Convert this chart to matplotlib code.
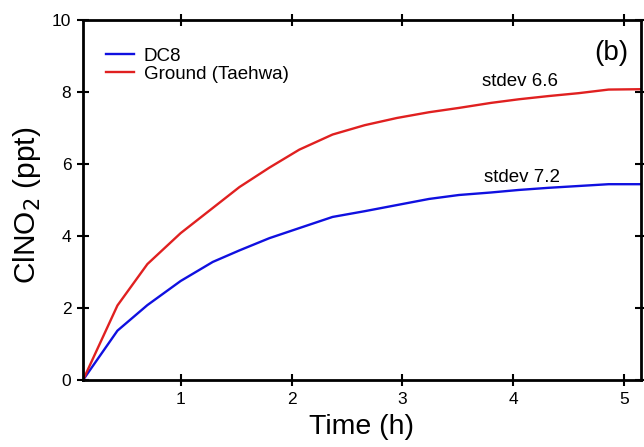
import matplotlib
matplotlib.use("Agg")
import matplotlib.pyplot as plt

plt.rcParams['font.family'] = ['Liberation Sans', 'DejaVu Sans']

time_h = [0.12, 0.43, 0.70, 1.00, 1.29, 1.53, 1.80, 2.07, 2.37, 2.66, 2.95, 3.24, 3.51, 3.80, 4.05, 4.32, 4.59, 4.86, 5.15]
dc8 = [0.0, 1.37, 2.08, 2.75, 3.28, 3.60, 3.94, 4.22, 4.53, 4.69, 4.86, 5.03, 5.14, 5.21, 5.28, 5.34, 5.39, 5.44, 5.44]
ground = [0.0, 2.07, 3.22, 4.08, 4.78, 5.36, 5.90, 6.40, 6.82, 7.08, 7.28, 7.44, 7.56, 7.70, 7.80, 7.89, 7.97, 8.07, 8.08]

series_names = ["DC8", "Ground (Taehwa)"]
annotations = ["stdev 7.2", "stdev 6.6"]

fig = plt.figure(figsize=(6.44, 4.47), dpi=100)
ax = fig.add_axes([0.129, 0.150, 0.866, 0.805])

ax.plot(time_h, dc8, color='#1010e0', lw=1.7, label=series_names[0])
ax.plot(time_h, ground, color='#e02020', lw=1.7, label=series_names[1])

ax.set_xlim(0.12, 5.15)
ax.set_ylim(0, 10)
ax.set_xticks([1, 2, 3, 4, 5])
ax.set_yticks([0, 2, 4, 6, 8, 10])
ax.tick_params(direction='inout', length=9, width=1.5, labelsize=12.5,
               top=True, right=True, labeltop=False, labelright=False, pad=4)
for s in ax.spines.values():
    s.set_linewidth(2)

ax.set_xlabel("Time (h)", fontsize=20.5, labelpad=5)
ax.set_ylabel("ClNO$_2$ (ppt)", fontsize=21.5)
ax.yaxis.set_label_coords(-0.072, 0.486)

leg = ax.legend(loc='upper left', frameon=False, fontsize=13.5,
                handlelength=1.5, handletextpad=0.55, labelspacing=0.05,
                bbox_to_anchor=(0.01, 0.97))

ax.text(4.88, 9.08, "(b)", fontsize=20, ha='center', va='center')
ax.text(4.06, 8.3, annotations[1], fontsize=13.5, ha='center', va='center')
ax.text(4.08, 5.64, annotations[0], fontsize=13.5, ha='center', va='center')

fig.savefig("out.png", dpi=100)
